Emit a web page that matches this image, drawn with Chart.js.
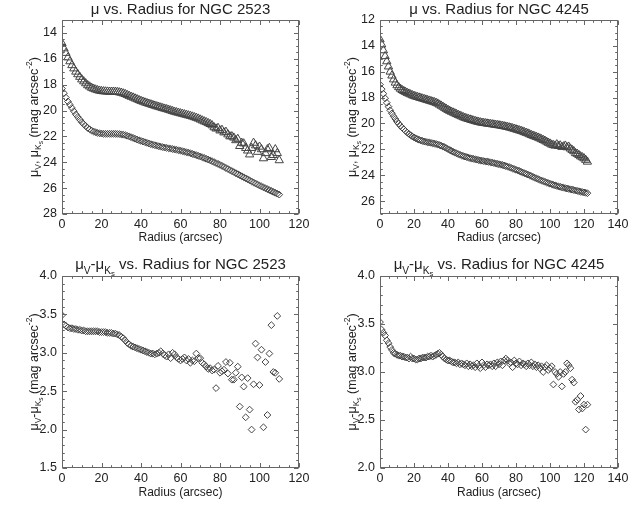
<!DOCTYPE html>
<html>
<head>
<meta charset="utf-8">
<script src="https://cdn.jsdelivr.net/npm/chart.js@4.4.0/dist/chart.umd.min.js"></script>
<style>
  html, body { margin: 0; padding: 0; background: #fff; }
  body { width: 637px; height: 510px; position: relative; overflow: hidden; }
  .panel { position: absolute; }
</style>
</head>
<body>
<div class="panel" style="left:0;top:0"><canvas id="mu2523" width="318" height="255"></canvas></div>
<div class="panel" style="left:318px;top:0"><canvas id="mu4245" width="319" height="255"></canvas></div>
<div class="panel" style="left:0;top:255px"><canvas id="col2523" width="318" height="255"></canvas></div>
<div class="panel" style="left:318px;top:255px"><canvas id="col4245" width="319" height="255"></canvas></div>
<script>
// radii (arcsec)
const radius2523 = [
  0,1,2,3,4,5,6,7,8,9,10,11,12,13,14,15,16,17,18,19,
  20,21,22,23,24,25,26,27,28,29,30,31,32,33,34,35,36,37,38,39,
  40,41,42,43,44,45,46,47,48,49,50,51,52,53,54,55,56,57,58,59,
  60,61,62,63,64,65,66,67,68,69,70,71,72,73,74,75,76,77,78,79,
  80,81,82,83,84,85,86,87,88,89,90,91,92,93,94,95,96,97,98,99,
  100,101,102,103,104,105,106,107,108,109,110];
const radius4245 = [
  0,1,2,3,4,5,6,7,8,9,10,11,12,13,14,15,16,17,18,19,
  20,21,22,23,24,25,26,27,28,29,30,31,32,33,34,35,36,37,38,39,
  40,41,42,43,44,45,46,47,48,49,50,51,52,53,54,55,56,57,58,59,
  60,61,62,63,64,65,66,67,68,69,70,71,72,73,74,75,76,77,78,79,
  80,81,82,83,84,85,86,87,88,89,90,91,92,93,94,95,96,97,98,99,
  100,101,102,103,104,105,106,107,108,109,110,111,112,113,114,115,116,117,118,119,
  120,121,122];

// NGC 2523: mu_Ks (triangles), mu_V (diamonds), mu_V - mu_Ks
const muK2523 = [
  14.8,15.2,15.55,15.9,16.2,16.5,16.75,17.0,17.2,17.4,
  17.6,17.75,17.9,18.05,18.15,18.25,18.32,18.38,18.43,18.47,
  18.5,18.52,18.53,18.54,18.55,18.55,18.55,18.56,18.57,18.6,
  18.63,18.68,18.73,18.8,18.87,18.94,19.0,19.07,19.13,19.2,
  19.26,19.32,19.38,19.43,19.48,19.53,19.58,19.63,19.68,19.72,
  19.77,19.82,19.86,19.9,19.95,20.0,20.05,20.1,20.14,20.18,
  20.22,20.26,20.3,20.34,20.38,20.42,20.47,20.52,20.57,20.63,
  20.7,20.77,20.84,20.9,20.98,21.05,21.15,21.3,21.4,21.35,
  21.55,21.5,21.7,21.65,21.85,22.0,22.0,22.1,22.3,22.2,
  22.75,22.5,22.55,22.9,23.1,23.4,22.9,22.5,22.7,23.2,
  22.8,23.0,23.7,23.3,23.0,22.9,23.6,23.45,23.0,23.3,23.85];
const muV2523 = [
  18.3,18.65,19.0,19.3,19.55,19.8,20.05,20.3,20.5,20.7,
  20.9,21.05,21.2,21.35,21.45,21.55,21.62,21.68,21.73,21.76,
  21.78,21.8,21.8,21.8,21.8,21.8,21.8,21.8,21.81,21.82,
  21.84,21.87,21.9,21.95,22.0,22.06,22.12,22.18,22.24,22.3,
  22.35,22.4,22.45,22.5,22.55,22.6,22.64,22.68,22.72,22.76,
  22.8,22.83,22.86,22.89,22.92,22.95,22.98,23.01,23.04,23.07,
  23.1,23.14,23.18,23.22,23.26,23.3,23.35,23.4,23.45,23.5,
  23.55,23.61,23.67,23.73,23.79,23.85,23.92,23.99,24.06,24.13,
  24.2,24.28,24.36,24.44,24.52,24.6,24.68,24.76,24.84,24.92,
  25.0,25.08,25.16,25.24,25.32,25.4,25.48,25.56,25.64,25.72,
  25.8,25.87,25.94,26.01,26.08,26.15,26.22,26.29,26.36,26.43,26.5];
const color2523 = [
  3.49,3.37,3.35,3.33,3.32,3.32,3.31,3.31,3.3,3.3,
  3.29,3.29,3.28,3.28,3.28,3.28,3.28,3.28,3.28,3.27,
  3.27,3.27,3.27,3.26,3.26,3.26,3.25,3.25,3.24,3.23,
  3.21,3.19,3.16,3.13,3.11,3.09,3.08,3.07,3.06,3.05,
  3.04,3.03,3.02,3.01,3.0,2.99,2.99,2.98,2.99,3.0,
  3.02,2.99,2.97,2.95,2.98,2.93,3.0,2.98,2.94,2.92,
  2.9,2.92,2.94,2.9,2.92,2.87,2.9,2.89,2.99,2.93,
  2.93,2.87,2.85,2.82,2.79,2.8,2.77,2.78,2.54,2.83,
  2.74,2.76,2.78,2.88,2.73,2.87,2.65,2.65,2.74,2.82,
  2.3,2.68,2.56,2.16,2.67,2.26,2.0,2.59,3.12,2.94,
  2.58,3.04,2.03,2.88,2.19,2.99,3.36,2.75,2.74,3.48,2.66];

// NGC 4245
const muK4245 = [
  13.5,13.9,14.35,14.8,15.2,15.6,16.0,16.3,16.6,16.85,
  17.05,17.2,17.32,17.42,17.5,17.57,17.64,17.7,17.76,17.82,
  17.87,17.92,17.96,18.0,18.04,18.08,18.12,18.16,18.2,18.24,
  18.28,18.32,18.36,18.41,18.47,18.55,18.63,18.71,18.8,18.88,
  18.96,19.03,19.1,19.16,19.22,19.28,19.34,19.4,19.46,19.52,
  19.57,19.62,19.66,19.7,19.74,19.78,19.82,19.86,19.89,19.92,
  19.95,19.97,19.99,20.01,20.03,20.05,20.07,20.09,20.11,20.13,
  20.15,20.17,20.2,20.22,20.25,20.28,20.31,20.34,20.38,20.42,
  20.46,20.5,20.54,20.58,20.63,20.68,20.73,20.78,20.84,20.9,
  20.95,21.0,21.05,21.1,21.16,21.22,21.28,21.34,21.42,21.5,
  21.56,21.64,21.68,21.72,21.62,21.75,21.7,21.82,21.78,21.72,
  21.85,21.8,21.95,22.05,22.15,22.3,22.35,22.45,22.55,22.62,
  22.7,22.82,22.96];
const muV4245 = [
  17.0,17.35,17.7,18.05,18.4,18.7,18.98,19.22,19.45,19.65,
  19.85,20.02,20.18,20.32,20.45,20.58,20.7,20.81,20.91,21.0,
  21.08,21.15,21.21,21.26,21.31,21.35,21.39,21.42,21.45,21.48,
  21.5,21.53,21.56,21.59,21.63,21.67,21.72,21.78,21.84,21.91,
  21.98,22.05,22.12,22.19,22.25,22.31,22.37,22.42,22.47,22.52,
  22.56,22.6,22.64,22.68,22.71,22.74,22.77,22.8,22.83,22.86,
  22.88,22.91,22.93,22.95,22.97,23.0,23.03,23.06,23.09,23.12,
  23.15,23.18,23.21,23.25,23.29,23.33,23.38,23.43,23.48,23.53,
  23.58,23.63,23.68,23.74,23.8,23.85,23.9,23.95,24.01,24.07,
  24.13,24.19,24.25,24.3,24.36,24.41,24.46,24.51,24.56,24.61,
  24.66,24.7,24.75,24.79,24.83,24.87,24.9,24.94,24.97,25.0,
  25.03,25.06,25.09,25.12,25.15,25.18,25.21,25.24,25.27,25.3,
  25.33,25.36,25.39];
const color4245 = [
  3.52,3.44,3.41,3.38,3.33,3.3,3.26,3.23,3.2,3.19,
  3.18,3.17,3.17,3.16,3.16,3.15,3.15,3.14,3.16,3.14,
  3.14,3.13,3.13,3.14,3.14,3.15,3.15,3.15,3.16,3.16,
  3.17,3.16,3.17,3.18,3.19,3.2,3.18,3.16,3.14,3.13,
  3.12,3.12,3.11,3.1,3.1,3.09,3.1,3.08,3.09,3.08,
  3.07,3.09,3.06,3.08,3.06,3.07,3.05,3.09,3.06,3.04,
  3.1,3.07,3.05,3.08,3.07,3.08,3.06,3.09,3.06,3.1,
  3.08,3.11,3.07,3.12,3.14,3.12,3.09,3.1,3.05,3.12,
  3.09,3.08,3.11,3.07,3.09,3.08,3.06,3.09,3.07,3.1,
  3.06,3.08,3.05,3.07,3.04,3.06,3.0,3.05,3.07,3.02,
  3.04,3.06,2.87,3.0,2.98,2.95,3.0,2.85,2.98,3.0,
  3.09,3.07,3.04,2.92,2.89,2.69,2.71,2.61,2.75,2.62,
  2.66,2.4,2.66];

// tick labels
const xTicks2523 = [0, 20, 40, 60, 80, 100, 120];
const xTicks4245 = [0, 20, 40, 60, 80, 100, 120, 140];
const yTicksMu2523 = [14, 16, 18, 20, 22, 24, 26, 28];
const yTicksMu4245 = [12, 14, 16, 18, 20, 22, 24, 26];
const yTicksCol2523 = [1.5, 2.0, 2.5, 3.0, 3.5, 4.0];
const yTicksCol4245 = [2.0, 2.5, 3.0, 3.5, 4.0];

const FONT = "'Liberation Sans', Arial, Helvetica, sans-serif";
const INK = '#444';
const FRAME = '#666';
const TEXT = '#222';

function pts(xs, ys) {
  return xs.map((x, i) => ({ x: x, y: ys[i] }));
}

// text with sub/superscripts: level 0 normal, 1 sub, 2 sub-sub, -1 sup
const lvScale = { '0': 1, '1': 0.68, '2': 0.52, '-1': 0.68 };
const lvShift = { '0': 0, '1': 0.28, '2': 0.42, '-1': -0.42 };
function drawRich(ctx, parts, cx, cy, rot, size) {
  let total = 0;
  const widths = parts.map(([t, lv]) => {
    ctx.font = (size * lvScale[lv]) + 'px ' + FONT;
    const w = ctx.measureText(t).width;
    total += w;
    return w;
  });
  ctx.save();
  ctx.translate(cx, cy);
  ctx.rotate(rot);
  ctx.fillStyle = TEXT;
  ctx.textAlign = 'left';
  ctx.textBaseline = 'alphabetic';
  let x = -total / 2;
  parts.forEach(([t, lv], i) => {
    ctx.font = (size * lvScale[lv]) + 'px ' + FONT;
    ctx.fillText(t, x, size * 0.36 + lvShift[lv] * size);
    x += widths[i];
  });
  ctx.restore();
}

// IDL-like box: frame, inward major/minor ticks on all four sides, titles
const idlFrame = {
  id: 'idlFrame',
  afterDraw(chart, args, o) {
    const { ctx, chartArea: a } = chart;
    const xs = chart.scales.x, ys = chart.scales.y;
    const L = Math.round(a.left) + 0.5, R = Math.round(a.right) - 0.5;
    const T = Math.round(a.top) + 0.5, B = Math.round(a.bottom) - 0.5;
    ctx.save();
    ctx.strokeStyle = FRAME;
    ctx.lineWidth = 1;
    ctx.strokeRect(L, T, R - L, B - T);
    ctx.beginPath();
    const xMaj = xs.ticks.map(t => t.value), yMaj = ys.ticks.map(t => t.value);
    for (let k = 0; ; k++) {
      const v = xs.min + k * o.xMinor;
      if (v > xs.max + 1e-6) break;
      const len = xMaj.some(m => Math.abs(m - v) < 1e-6) ? 4.5 : 2.3;
      const p = Math.round(xs.getPixelForValue(v)) + 0.5;
      ctx.moveTo(p, B); ctx.lineTo(p, B - len);
      ctx.moveTo(p, T); ctx.lineTo(p, T + len);
    }
    for (let k = 0; ; k++) {
      const v = ys.min + k * o.yMinor;
      if (v > ys.max + 1e-6) break;
      const len = yMaj.some(m => Math.abs(m - v) < 1e-6) ? 4.5 : 2.3;
      const p = Math.round(ys.getPixelForValue(v)) + 0.5;
      ctx.moveTo(L, p); ctx.lineTo(L + len, p);
      ctx.moveTo(R, p); ctx.lineTo(R - len, p);
    }
    ctx.stroke();
    ctx.restore();
    drawRich(ctx, o.title, (a.left + a.right) / 2, 9, 0, 15);
    drawRich(ctx, o.yTitle, 33, (a.top + a.bottom) / 2, -Math.PI / 2, 12.5);
  }
};

const muTitle = [['\u03bc', 0], ['V', 1], [', \u03bc', 0], ['K', 1], ['s', 2], [' (mag arcsec', 0], ['-2', -1], [')', 0]];
const colTitle = [['\u03bc', 0], ['V', 1], ['-\u03bc', 0], ['K', 1], ['s', 2], [' (mag arcsec', 0], ['-2', -1], [')', 0]];

function diamonds(xs, ys) {
  return { data: pts(xs, ys), showLine: false, pointStyle: 'rectRot', pointRadius: 3.4,
    pointBorderColor: INK, pointBackgroundColor: 'rgba(0,0,0,0)', pointBorderWidth: 1 };
}
function triangles(xs, ys) {
  return { data: pts(xs, ys), showLine: false, pointStyle: 'triangle', pointRadius: 4.8,
    pointBorderColor: INK, pointBackgroundColor: 'rgba(0,0,0,0)', pointBorderWidth: 1 };
}

function makePanel(id, p) {
  new Chart(document.getElementById(id), {
    type: 'scatter',
    data: { datasets: p.sets },
    options: {
      responsive: false,
      animation: false,
      events: [],
      layout: { padding: { top: p.top, right: p.right, left: 0, bottom: 0 } },
      plugins: {
        legend: { display: false },
        tooltip: { enabled: false },
        idlFrame: { title: p.title, yTitle: p.yTitle, xMinor: p.xMinor, yMinor: p.yMinor }
      },
      scales: {
        x: {
          type: 'linear', min: p.xMin, max: p.xMax,
          grid: { display: false, drawTicks: false },
          border: { display: false },
          afterBuildTicks: s => { s.ticks = p.xTicks.map(v => ({ value: v })); },
          afterFit: s => { s.height = 255 - p.bottom; },
          ticks: { padding: 3, maxRotation: 0, autoSkip: false, color: TEXT,
            font: { family: FONT, size: 12.5 } },
          title: { display: true, text: 'Radius (arcsec)', color: TEXT,
            font: { family: FONT, size: 12 }, padding: { top: 0, bottom: 10 } }
        },
        y: {
          type: 'linear', min: p.yMin, max: p.yMax, reverse: p.reverse,
          grid: { display: false, drawTicks: false },
          border: { display: false },
          afterBuildTicks: s => { s.ticks = p.yTicks.map(v => ({ value: v })); },
          afterFit: s => { s.width = 62; },
          ticks: { padding: 5, color: TEXT, font: { family: FONT, size: 12.5 },
            callback: p.fmt }
        }
      }
    },
    plugins: [idlFrame]
  });
}

makePanel('mu2523', {
  sets: [triangles(radius2523, muK2523), diamonds(radius2523, muV2523)],
  top: 20, bottom: 214, right: 19,
  xMin: 0, xMax: 120, xTicks: xTicks2523, xMinor: 5,
  yMin: 13, yMax: 28, yTicks: yTicksMu2523, yMinor: 0.5, reverse: true,
  fmt: v => String(v),
  title: [['\u03bc vs. Radius for NGC 2523', 0]], yTitle: muTitle
});
makePanel('mu4245', {
  sets: [triangles(radius4245, muK4245), diamonds(radius4245, muV4245)],
  top: 20, bottom: 214, right: 19,
  xMin: 0, xMax: 140, xTicks: xTicks4245, xMinor: 5,
  yMin: 12, yMax: 27, yTicks: yTicksMu4245, yMinor: 0.5, reverse: true,
  fmt: v => String(v),
  title: [['\u03bc vs. Radius for NGC 4245', 0]], yTitle: muTitle
});
makePanel('col2523', {
  sets: [diamonds(radius2523, color2523)],
  top: 21, bottom: 213, right: 19,
  xMin: 0, xMax: 120, xTicks: xTicks2523, xMinor: 5,
  yMin: 1.5, yMax: 4.0, yTicks: yTicksCol2523, yMinor: 0.1, reverse: false,
  fmt: v => v.toFixed(1),
  title: [['\u03bc', 0], ['V', 1], ['-\u03bc', 0], ['K', 1], ['s', 2], [' vs. Radius for NGC 2523', 0]],
  yTitle: colTitle
});
makePanel('col4245', {
  sets: [diamonds(radius4245, color4245)],
  top: 21, bottom: 213, right: 19,
  xMin: 0, xMax: 140, xTicks: xTicks4245, xMinor: 5,
  yMin: 2.0, yMax: 4.0, yTicks: yTicksCol4245, yMinor: 0.1, reverse: false,
  fmt: v => v.toFixed(1),
  title: [['\u03bc', 0], ['V', 1], ['-\u03bc', 0], ['K', 1], ['s', 2], [' vs. Radius for NGC 4245', 0]],
  yTitle: colTitle
});
</script>
</body>
</html>
